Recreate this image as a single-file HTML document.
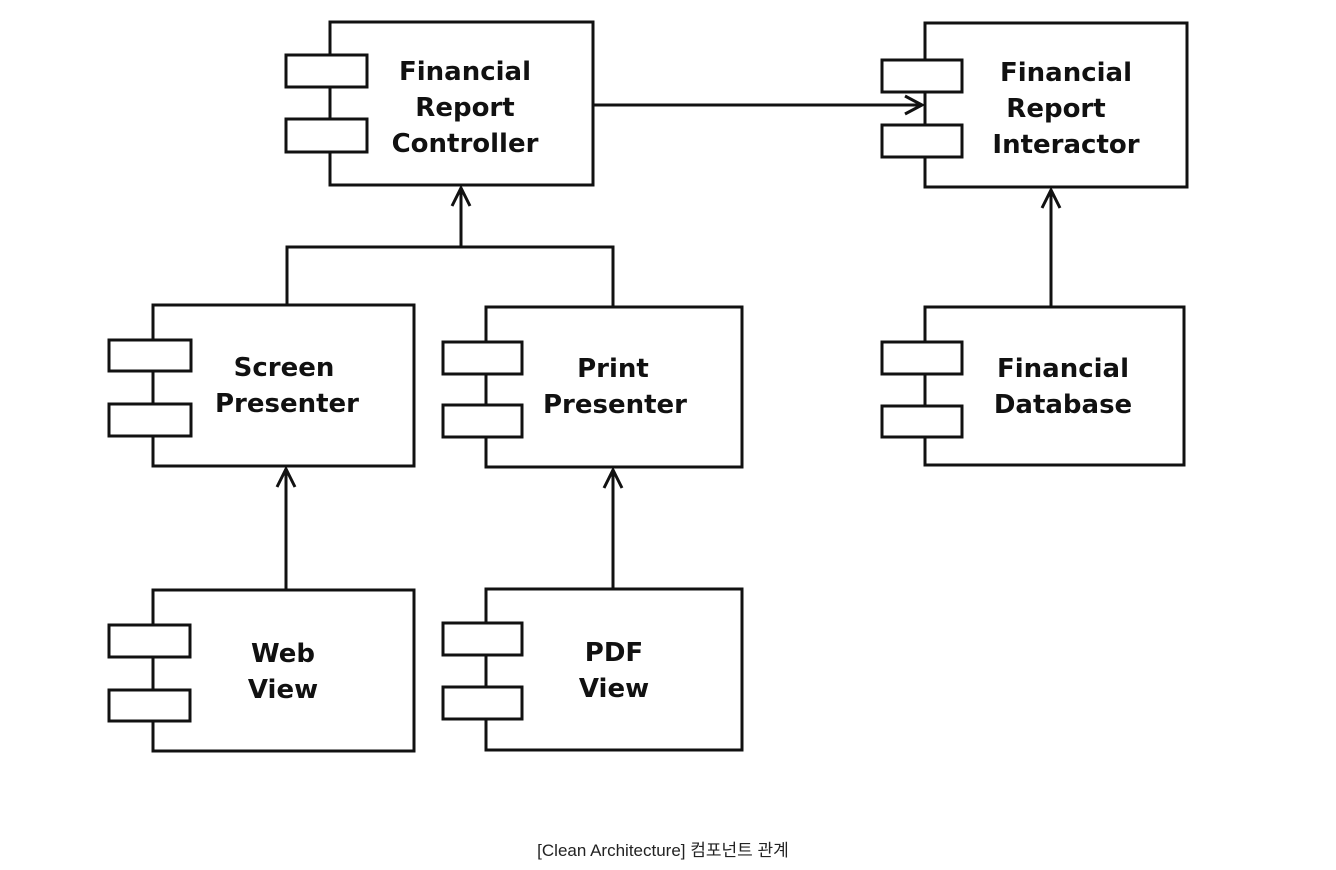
<!DOCTYPE html>
<html><head><meta charset="utf-8"><style>
body{margin:0;background:#fff;width:1336px;height:870px;overflow:hidden}
svg{display:block}
text{font-family:"DejaVu Sans","Liberation Sans",sans-serif;font-weight:bold;font-size:26px;fill:#111;text-anchor:middle}
.cap{font-family:"Liberation Sans","Noto Sans CJK KR",sans-serif;font-weight:normal;font-size:17px;fill:#222}
</style></head><body>
<svg width="1336" height="870" viewBox="0 0 1336 870" fill="none" stroke="#111" stroke-width="3">
<!-- Controller -->
<rect x="330" y="22" width="263" height="163" fill="#fff"/>
<rect x="286" y="55" width="81" height="32" fill="#fff"/>
<rect x="286" y="119" width="81" height="33" fill="#fff"/>
<text x="465" y="80" stroke="none">Financial</text>
<text x="465" y="116" stroke="none">Report</text>
<text x="465" y="152" stroke="none">Controller</text>
<!-- Interactor -->
<rect x="925" y="23" width="262" height="164" fill="#fff"/>
<rect x="882" y="60" width="80" height="32" fill="#fff"/>
<rect x="882" y="125" width="80" height="32" fill="#fff"/>
<text x="1066" y="81" stroke="none">Financial</text>
<text x="1056" y="117" stroke="none">Report</text>
<text x="1066" y="153" stroke="none">Interactor</text>
<!-- Screen Presenter -->
<rect x="153" y="305" width="261" height="161" fill="#fff"/>
<rect x="109" y="340" width="82" height="31" fill="#fff"/>
<rect x="109" y="404" width="82" height="32" fill="#fff"/>
<text x="284" y="376" stroke="none">Screen</text>
<text x="287" y="412" stroke="none">Presenter</text>
<!-- Print Presenter -->
<rect x="486" y="307" width="256" height="160" fill="#fff"/>
<rect x="443" y="342" width="79" height="32" fill="#fff"/>
<rect x="443" y="405" width="79" height="32" fill="#fff"/>
<text x="613" y="377" stroke="none">Print</text>
<text x="615" y="413" stroke="none">Presenter</text>
<!-- Database -->
<rect x="925" y="307" width="259" height="158" fill="#fff"/>
<rect x="882" y="342" width="80" height="32" fill="#fff"/>
<rect x="882" y="406" width="80" height="31" fill="#fff"/>
<text x="1063" y="377" stroke="none">Financial</text>
<text x="1063" y="413" stroke="none">Database</text>
<!-- Web View -->
<rect x="153" y="590" width="261" height="161" fill="#fff"/>
<rect x="109" y="625" width="81" height="32" fill="#fff"/>
<rect x="109" y="690" width="81" height="31" fill="#fff"/>
<text x="283" y="662" stroke="none">Web</text>
<text x="283" y="698" stroke="none">View</text>
<!-- PDF View -->
<rect x="486" y="589" width="256" height="161" fill="#fff"/>
<rect x="443" y="623" width="79" height="32" fill="#fff"/>
<rect x="443" y="687" width="79" height="32" fill="#fff"/>
<text x="614" y="661" stroke="none">PDF</text>
<text x="614" y="697" stroke="none">View</text>
<!-- connectors -->
<path d="M593 105 H922 M905 96 L922 105 L905 114"/>
<path d="M287 305 V247 H613 V307 M461 247 V188 M452 206 L461 188 L470 206"/>
<path d="M286 590 V469 M277 487 L286 469 L295 487"/>
<path d="M613 589 V470 M604 488 L613 470 L622 488"/>
<path d="M1051 307 V190 M1042 208 L1051 190 L1060 208"/>
<text class="cap" x="663" y="856" stroke="none">[Clean Architecture] 컴포넌트 관계</text>
</svg>
</body></html>
